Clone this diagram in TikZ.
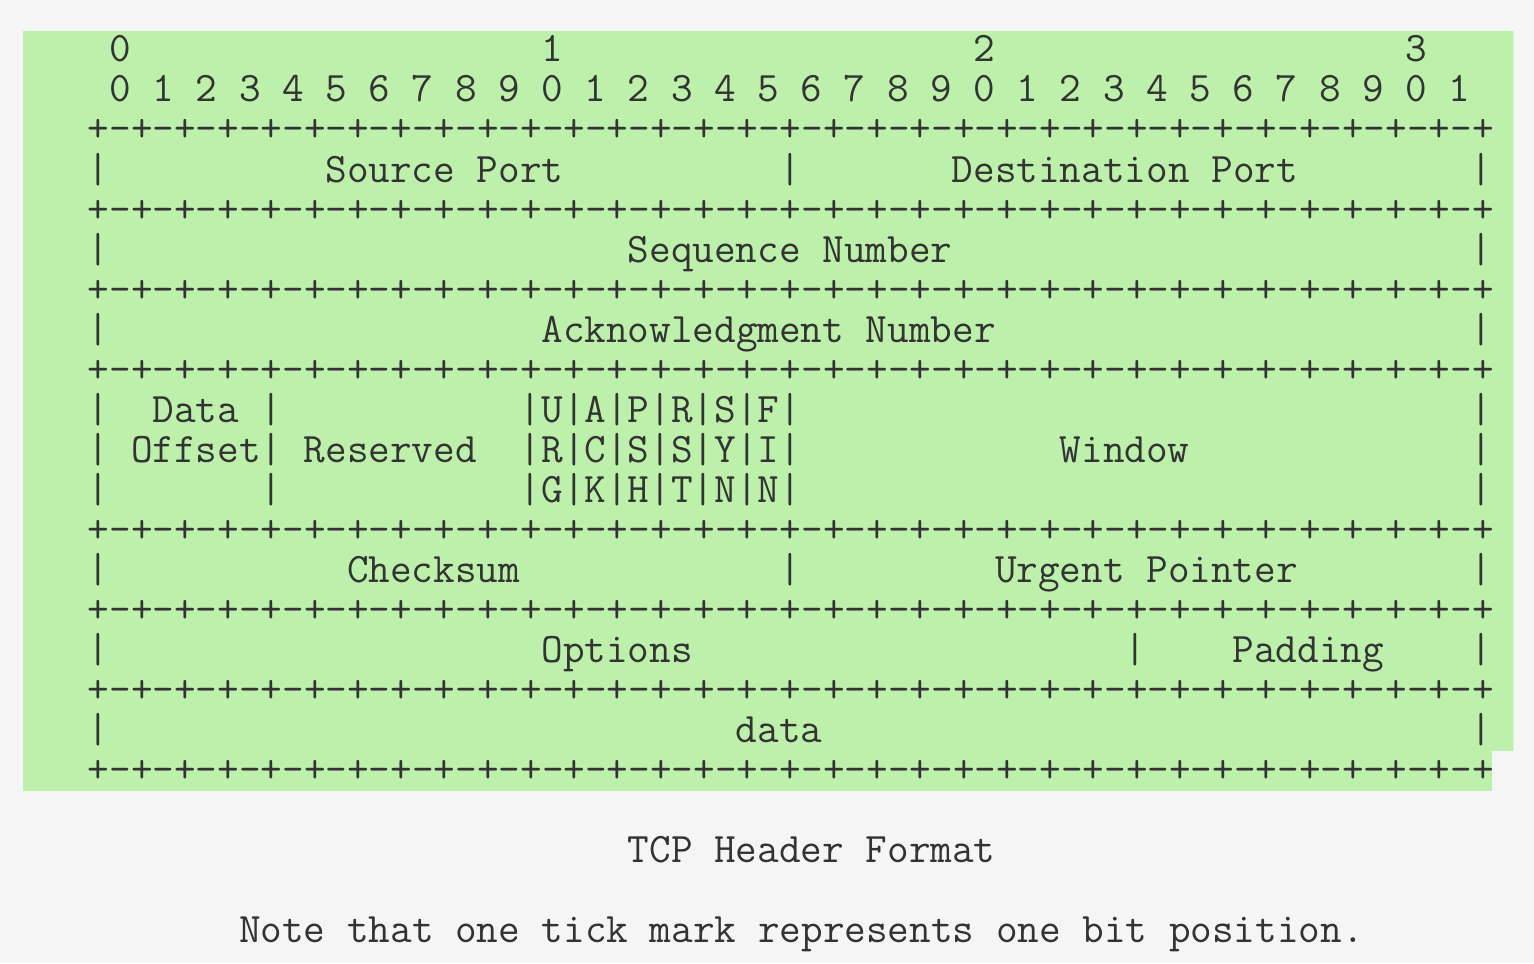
\documentclass[tikz,border=0pt]{standalone}
\usepackage{fontspec}
\usepackage{tikz}
\usetikzlibrary{positioning,calc}
\definecolor{pagebg}{HTML}{F5F5F5}
\definecolor{codebg}{HTML}{BDF0AB}
\definecolor{ink}{HTML}{333333}
\tikzset{ch/.style={anchor=base west, inner sep=0pt, outer sep=0pt, text=ink,
    font=\ttfamily\fontsize{21pt}{20pt}\selectfont}}
\newcommand{\tickrow}{+-+-+-+-+-+-+-+-%
+-+-+-+-+-+-+-+-%
+-+-+-+-+-+-+-+-%
+-+-+-+-+-+-+-+-%
+}

\begin{document}
\begin{tikzpicture}[x=10.8pt, y=-20pt]
    \fill[pagebg] (-11.5pt,31pt) rectangle (755.5pt,-450.5pt);
    \useasboundingbox (-11.5pt,31pt) rectangle (755.5pt,-450.5pt);
    \fill[codebg] (0,-0.78) -- (69,-0.78) -- (69,17.22) -- (68,17.22) -- (68,18.22) -- (0,18.22) -- cycle;
    % bit ruler
    \foreach \t in {0,...,3} {
        \node[ch] (ten-\t) at (4+20*\t,0) {\t};
    }
    \foreach \b in {0,...,31} {
        \pgfmathtruncatemacro\d{mod(\b,10)}
        \node[ch] (bit-\b) at (4+2*\b,1) {\d};
    }
    \foreach \l in {2,4,6,8,12,14,16,18} {
        \node[ch] (sep-\l) at (3,\l) {\tickrow};
    }
    \foreach \l/\c in {3/3,3/35,3/67,5/3,5/67,7/3,7/67,9/3,9/11,9/67,10/3,10/11,10/67,
            11/3,11/11,11/67,13/3,13/35,13/67,15/3,15/51,15/67,17/3,17/67} {
        \node[ch] (bar-\l-\c) at (\c,\l) {|};
    }
    \foreach \l/\fl in {9/{|U|A|P|R|S|F|},10/{|R|C|S|S|Y|I|},11/{|G|K|H|T|N|N|}} {
        \node[ch] (flags-\l) at (23,\l) {\fl};
    }
    % fields
    \node[ch] (src) at (14,3) {Source Port};
    \node[ch] (dst) at (43,3) {Destination Port};
    \node[ch] (seq) at (28,5) {Sequence Number};
    \node[ch] (ack) at (24,7) {Acknowledgment Number};
    \node[ch] (doff) at (6,9) {Data};
    \node[ch] (doff2) at (5,10) {Offset};
    \node[ch] (rsv) at (13,10) {Reserved};
    \node[ch] (win) at (48,10) {Window};
    \node[ch] (csum) at (15,13) {Checksum};
    \node[ch] (urg) at (45,13) {Urgent Pointer};
    \node[ch] (opt) at (24,15) {Options};
    \node[ch] (pad) at (56,15) {Padding};
    \node[ch] (data) at (33,17) {data};
    % caption
    \node[ch] (title) at (28,20) {TCP Header Format};
    \node[ch] (note) at (10,22) {Note that one tick mark represents one bit position.};
\end{tikzpicture}
\end{document}
